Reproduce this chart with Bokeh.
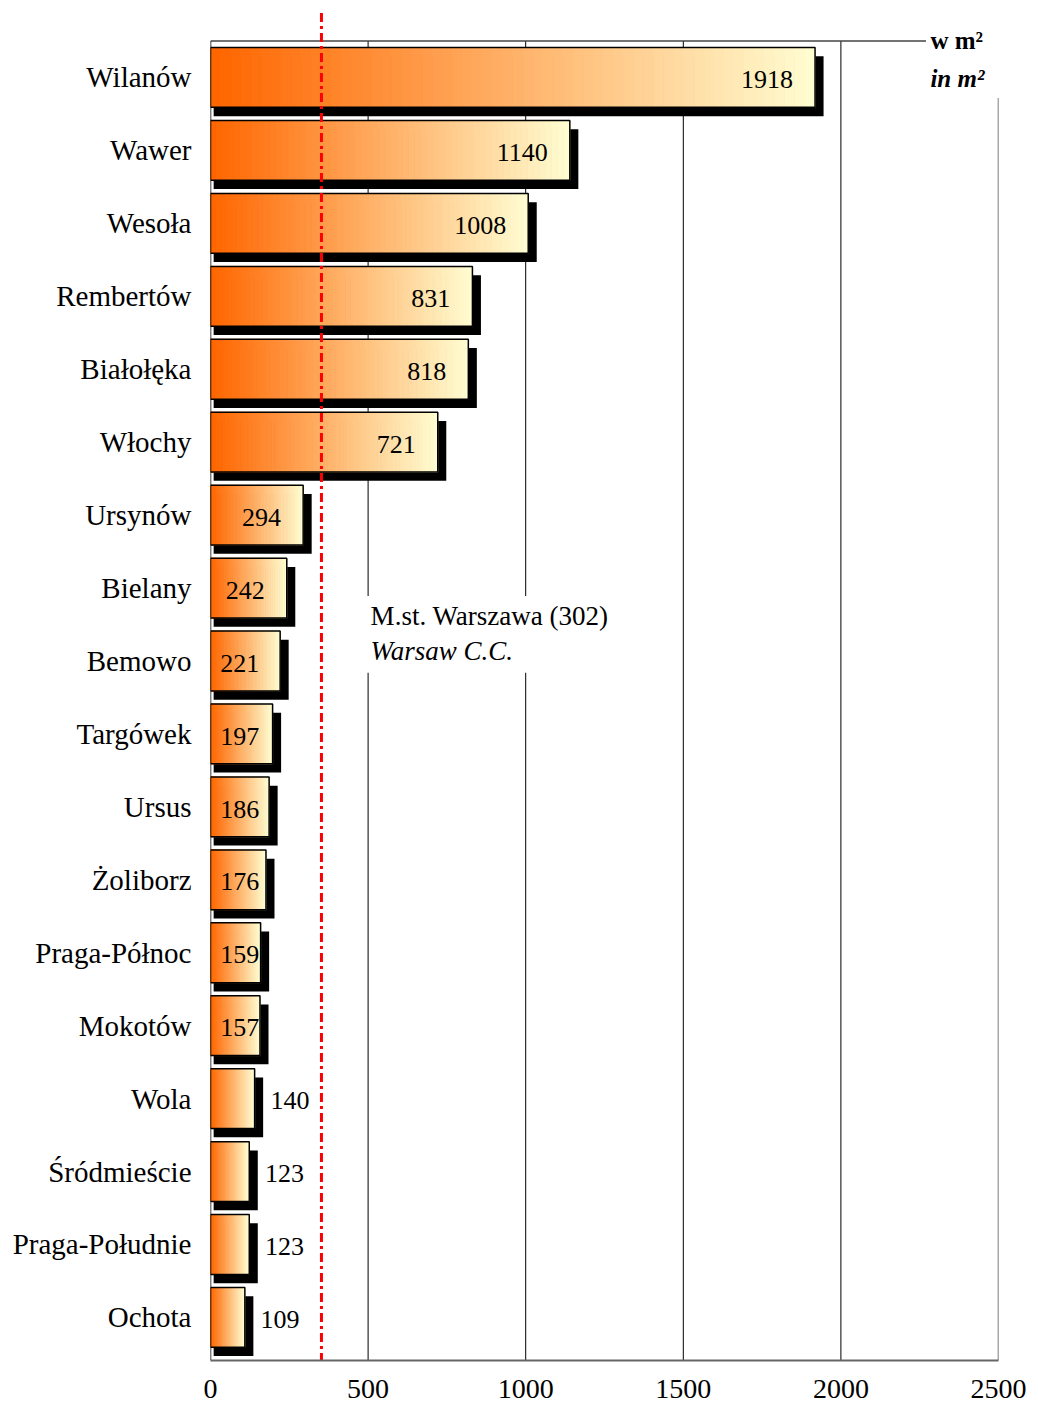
from bokeh.plotting import figure
from bokeh.models import Range1d, FixedTicker
from bokeh.embed import file_html
from bokeh.resources import INLINE
from bokeh.core.properties import value

# ---------------- data ----------------
districts = ["Wilanów", "Wawer", "Wesoła", "Rembertów", "Białołęka", "Włochy",
             "Ursynów", "Bielany", "Bemowo", "Targówek", "Ursus", "Żoliborz",
             "Praga-Północ", "Mokotów", "Wola", "Śródmieście", "Praga-Południe", "Ochota"]
values = [1918, 1140, 1008, 831, 818, 721, 294, 242, 221, 197, 186, 176,
          159, 157, 140, 123, 123, 109]
x_ticks = [0, 500, 1000, 1500, 2000, 2500]
grid_x = [500, 1000, 1500, 2000]
warsaw_line_x = 352
warsaw_label = "M.st. Warszawa (302)"
warsaw_label_en = "Warsaw C.C."
unit_pl = "w m²"
unit_en = "in m²"

FONT = "Liberation Serif"
n = len(districts)
ppu = 72.94  # pixels per category band

y_top_frame = -0.5 - 40.5 / ppu
y_bot_frame = n - 0.5 + 6.6 / ppu

p = figure(width=1038, height=1405,
           x_range=Range1d(0, 2500),
           y_range=Range1d(y_bot_frame, y_top_frame),
           output_backend="svg", toolbar_location=None,
           min_border_left=210, min_border_right=40,
           min_border_top=0, min_border_bottom=45)
p.outline_line_color = None
p.xgrid.grid_line_color = None
p.ygrid.grid_line_color = None
p.background_fill_color = "white"

# y axis (categories)
p.yaxis.ticker = FixedTicker(ticks=list(range(n)))
p.yaxis.major_label_overrides = {i: d for i, d in enumerate(districts)}
p.yaxis.major_label_text_font = FONT
p.yaxis.major_label_text_font_size = "29px"
p.yaxis.major_label_text_color = "black"
p.yaxis.major_tick_line_color = None
p.yaxis.minor_tick_line_color = None
p.yaxis.axis_line_color = None
p.yaxis.major_label_standoff = 13

# x axis
p.xaxis.ticker = FixedTicker(ticks=x_ticks)
p.xaxis.major_label_text_font = FONT
p.xaxis.major_label_text_font_size = "28px"
p.xaxis.major_label_text_color = "black"
p.xaxis.major_tick_line_color = None
p.xaxis.minor_tick_line_color = None
p.xaxis.axis_line_color = "#666666"
p.xaxis.axis_line_width = 2
p.xaxis.major_label_standoff = 13

top_y = -0.5
bot_y = y_bot_frame

# gridlines
p.segment(x0=grid_x, y0=[top_y] * len(grid_x), x1=grid_x, y1=[bot_y] * len(grid_x),
          line_color="black", line_width=1)
# right border (starts below unit label)
p.segment(x0=[x_ticks[-1]], y0=[top_y + 57 / ppu], x1=[x_ticks[-1]], y1=[bot_y],
          line_color="#555555", line_width=1.5)
# top line (stops before unit label)
p.segment(x0=[0], y0=[top_y], x1=[2270], y1=[top_y], line_color="#444444", line_width=1.5)
# left axis line
p.segment(x0=[0], y0=[top_y], x1=[0], y1=[bot_y], line_color="black", line_width=1.5)

# annotation background + text
p.quad(left=[492], right=[1339], top=[7.11], bottom=[8.16],
       fill_color="white", line_color=None)
p.text(x=[508], y=[7.39], text=[warsaw_label], text_font=value(FONT),
       text_font_size="27px", text_baseline="middle", text_align="left", text_color="black")
p.text(x=[508], y=[7.86], text=[warsaw_label_en], text_font=value(FONT),
       text_font_size="27px", text_font_style="italic",
       text_baseline="middle", text_align="left", text_color="black")

# units
p.text(x=[2284], y=[-0.5], text=[unit_pl], text_font=value(FONT), text_font_size="25px",
       text_font_style="bold", text_baseline="middle", text_align="left", text_color="black")
p.text(x=[2284], y=[0.01], text=[unit_en], text_font=value(FONT), text_font_size="25px",
       text_font_style="bold italic", text_baseline="middle", text_align="left", text_color="black")

# bars
half = 0.41
sh_dy = 0.12
ys = list(range(n))
p.quad(left=[10] * n, right=[v + 27 for v in values],
       top=[y - half + sh_dy for y in ys], bottom=[y + half + sh_dy for y in ys],
       fill_color="black", line_color=None)

NS = 60
c0 = (255, 102, 0)
c1 = (255, 252, 208)
L, R, T, B, C = [], [], [], [], []
for i, v in enumerate(values):
    for k in range(NS):
        t = k / (NS - 1)
        L.append(v * k / NS)
        R.append(v * (k + 1) / NS)
        T.append(i - half)
        B.append(i + half)
        C.append("#%02x%02x%02x" % tuple(round(a + (b - a) * t) for a, b in zip(c0, c1)))
p.quad(left=L, right=R, top=T, bottom=B, fill_color=C, line_color=C, line_width=1)
p.quad(left=[0] * n, right=values, top=[y - half for y in ys], bottom=[y + half for y in ys],
       fill_color=None, line_color="black", line_width=1.5)

# value labels
in_x, in_y, in_t, out_x, out_y, out_t = [], [], [], [], [], []
for i, v in enumerate(values):
    if v >= 150:
        in_x.append(max(v - 70, 155)); in_y.append(i + 0.03); in_t.append(str(v))
    else:
        out_x.append(v + 50); out_y.append(i + 0.03); out_t.append(str(v))
p.text(x=in_x, y=in_y, text=in_t, text_font=value(FONT), text_font_size="26px",
       text_align="right", text_baseline="middle", text_color="black")
p.text(x=out_x, y=out_y, text=out_t, text_font=value(FONT), text_font_size="26px",
       text_align="left", text_baseline="middle", text_color="black")

# Warsaw average line
p.segment(x0=[warsaw_line_x], y0=[-0.5 - 28 / ppu], x1=[warsaw_line_x], y1=[bot_y],
          line_color="#FF0000", line_width=3, line_dash="9 4 3 4")

open("out.html", "w").write(file_html(p, INLINE))
